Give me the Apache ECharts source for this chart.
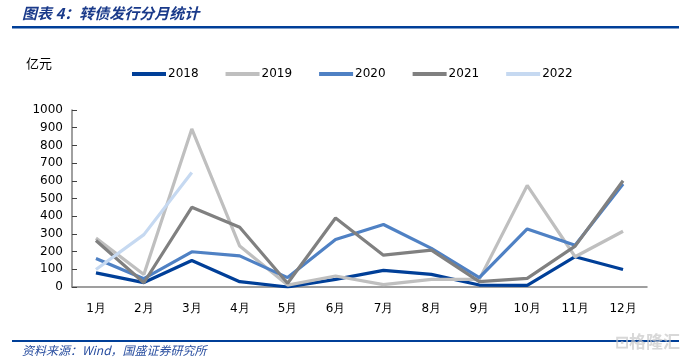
<!DOCTYPE html>
<html><head><meta charset="utf-8">
<script src="https://cdn.jsdelivr.net/npm/echarts@6/dist/echarts.min.js"></script>
<style>html,body{margin:0;padding:0;background:#fff}#c{width:686px;height:363px}</style>
</head><body><div id="c"></div>
<script>
var months = ['1月','2月','3月','4月','5月','6月','7月','8月','9月','10月','11月','12月'];
var s2018 = [80, 25, 150, 30, 0, 43, 94, 71, 11, 9, 171, 99];
var s2019 = [276, 71, 893, 231, 11, 62, 13, 43, 43, 574, 171, 315];
var s2020 = [161, 47, 199, 176, 53, 268, 353, 218, 53, 328, 236, 582];
var s2021 = [263, 24, 450, 338, 21, 390, 180, 208, 30, 49, 231, 600];
var s2022 = [99, 296, 647];
var yTicks = [0, 100, 200, 300, 400, 500, 600, 700, 800, 900, 1000];

var names = ['2018','2019','2020','2021','2022'];
var colors = ['#003f98','#bfbfbf','#4f81c4','#808080','#c6d9f1'];
var datas = [s2018, s2019, s2020, s2021, s2022];

var chart = echarts.init(document.getElementById('c'));
var font = 'DejaVu Sans';
chart.setOption({
  animation: false,
  backgroundColor: '#fff',
  grid: {left: 72, right: 39, top: 110, bottom: 76},
  legend: {
    left: 127, top: 63, itemWidth: 34, itemHeight: 4, itemGap: 27, icon: 'rect',
    textStyle: {fontFamily: font, fontSize: 12, color: '#000', padding: [0,0,0,-3]},
    data: names.map(function(n,i){return {name:n, itemStyle:{color:colors[i]}};})
  },
  xAxis: {
    type: 'category', data: months, boundaryGap: true,
    axisLine: {lineStyle: {color: '#808080', width: 1.5}},
    axisTick: {inside: true, length: 5, lineStyle: {color: '#404040'}},
    axisLabel: {fontFamily: font, fontSize: 12, color: '#000', margin: 16}
  },
  yAxis: {
    type: 'value', min: 0, max: 1000, interval: 100,
    axisLine: {show: true, lineStyle: {color: '#808080', width: 1.5}},
    axisTick: {show: true, inside: true, length: 5, lineStyle: {color: '#404040'}},
    splitLine: {show: false},
    axisLabel: {fontFamily: font, fontSize: 12, color: '#000', margin: 9,
      formatter: function(v){ return yTicks.indexOf(v) >= 0 ? String(v) : ''; }}
  },
  series: names.map(function(n,i){
    return {name: n, type: 'line', data: datas[i], symbol: 'none',
      lineStyle: {color: colors[i], width: 3.2}, itemStyle: {color: colors[i]}};
  }),
  graphic: [
    {type:'text', left: 22, top: 6, style:{text:'图表 4：转债发行分月统计', font:'italic bold 15px "Noto Sans CJK SC"', fill:'#1a3a8a'}},
    {type:'rect', shape:{x:12, y:26, width:667, height:2.5}, style:{fill:'#003f98'}},
    {type:'text', left: 26, top: 57, style:{text:'亿元', font:'13px "Noto Sans CJK SC"', fill:'#000'}},
    {type:'rect', shape:{x:12, y:340, width:667, height:2}, style:{fill:'#003f98'}},
    {type:'text', left: 22, top: 344, style:{text:'资料来源：Wind，国盛证券研究所', font:'italic 12px "Noto Sans CJK SC"', fill:'#2a4fa0'}},
    {type:'text', left: 615, top: 333, style:{text:'⊡格隆汇', font:'bold 17px "Noto Sans CJK SC"', fill:'rgba(200,200,200,0.7)'}}
  ]
});
</script></body></html>
